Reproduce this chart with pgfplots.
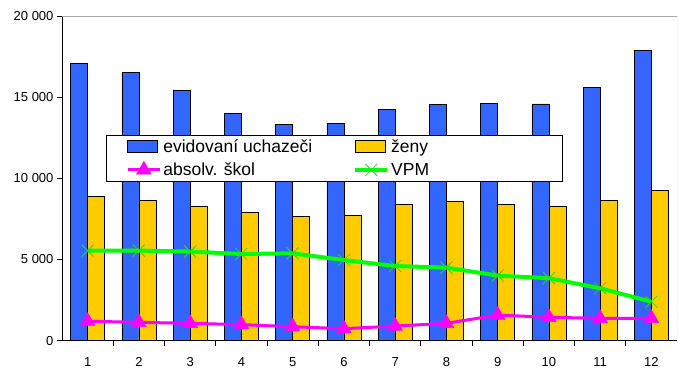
\documentclass[border=0pt]{standalone}
\usepackage{fontspec}
\setmainfont{Liberation Sans}
\usepackage{pgfplots}
\pgfplotsset{compat=1.18}
\definecolor{cblue}{HTML}{3366FF}
\definecolor{cyel}{HTML}{FFCC00}
\definecolor{cmag}{HTML}{FF00FF}
\definecolor{cgreen}{HTML}{00FF00}
\definecolor{cgreenm}{HTML}{22DD22}
\pgfplotsset{
  linelegend/.style={legend image code/.code={\draw[##1, mark repeat=2, mark phase=2] plot coordinates {(0pt,0pt) (16pt,0pt) (32pt,0pt)};}},
  bluelegend/.style={legend image code/.code={\draw[black, fill=cblue, line width=0.8pt] (0pt,-6pt) rectangle (30pt,6pt);}},
  yellegend/.style={legend image code/.code={\draw[black, fill=cyel, line width=0.8pt] (0pt,-6pt) rectangle (30pt,6pt);}},
}
\begin{document}
\begin{tikzpicture}[x=1pt,y=1pt]
\path[use as bounding box] (0,0) rectangle (678,387);
\begin{axis}[
  at={(62pt,46.3pt)}, anchor=south west,
  scale only axis, width=615pt, height=324.7pt,
  xmin=0.5, xmax=12.5, ymin=0, ymax=20000,
  axis x line*=bottom, axis y line*=left,
  axis line style={-, black, line width=0.8pt},
  xtick={1,...,12}, minor xtick={1.5,2.5,...,11.5},
  major x tick style={draw=none},
  minor x tick style={black, line width=0.6pt},
  minor tick length=5pt,
  ytick={0,5000,10000,15000,20000},
  major tick length=5pt,
  y tick style={black, line width=0.8pt},
  tick align=outside,
  scaled y ticks=false,
  /pgf/number format/.cd, 1000 sep={\ }, assume math mode=true, /pgfplots/.cd,
  tick label style={font=\fontsize{13}{15}\selectfont},
  xticklabel style={yshift=-8pt},
  legend columns=2,
  legend cell align=left,
  legend style={at={(0.0715,0.6335)}, anchor=north west, draw=black, line width=0.8pt,
    fill=white, inner xsep=20pt, inner ysep=2pt,
    font=\fontsize{17.5}{20}\selectfont,
    nodes={inner ysep=2pt},
    row sep=5pt,
    /tikz/every even column/.append style={column sep=39pt}},
]
\addplot[ybar, bar width=17pt, bar shift=-8.5pt, draw=black, fill=cblue, line width=0.7pt, bluelegend]
  coordinates {(1,17100) (2,16550) (3,15420) (4,14000) (5,13300) (6,13360)
               (7,14220) (8,14550) (9,14630) (10,14580) (11,15580) (12,17860)};
\addlegendentry{evidovaní uchazeči}
\addplot[ybar, bar width=17pt, bar shift=8.5pt, draw=black, fill=cyel, line width=0.7pt, yellegend]
  coordinates {(1,8870) (2,8630) (3,8300) (4,7890) (5,7660) (6,7740)
               (7,8380) (8,8590) (9,8380) (10,8300) (11,8630) (12,9270)};
\addlegendentry{\makebox[149pt][l]{ženy}}
\addplot[cmag, line width=3pt, mark=triangle*, mark size=8.5pt,
  mark options={fill=cmag, draw=cmag, line width=0.5pt}, linelegend]
  coordinates {(1,1200) (2,1130) (3,1070) (4,990) (5,860) (6,740)
               (7,900) (8,1070) (9,1580) (10,1440) (11,1380) (12,1380)};
\addlegendentry{absolv. škol}
\addplot[cgreen, line width=4pt, mark=x, mark size=8.5pt,
  mark options={draw=cgreenm, line width=0.8pt}, linelegend]
  coordinates {(1,5550) (2,5550) (3,5490) (4,5340) (5,5380) (6,4970)
               (7,4600) (8,4500) (9,4010) (10,3850) (11,3230) (12,2400)};
\addlegendentry{VPM}
\draw[gray!70, line width=0.8pt] (rel axis cs:0,1) -- (rel axis cs:1,1) -- (rel axis cs:1,0);
\end{axis}
\end{tikzpicture}
\end{document}
